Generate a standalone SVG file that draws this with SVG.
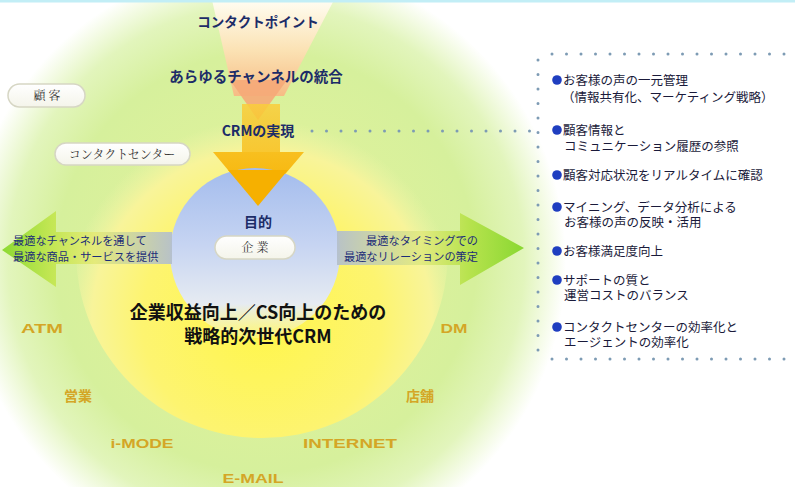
<svg xmlns="http://www.w3.org/2000/svg" width="795" height="487" viewBox="0 0 795 487">
<defs>
<radialGradient id="gGreen" cx="266" cy="262" r="300" gradientUnits="userSpaceOnUse">
<stop offset="0" stop-color="#e6f39a"/>
<stop offset="0.7" stop-color="#d6f09c"/>
<stop offset="0.86" stop-color="#e2f5bc"/>
<stop offset="1" stop-color="#ffffff"/>
</radialGradient>
<radialGradient id="gYellow" cx="262" cy="320" r="200" gradientUnits="userSpaceOnUse">
<stop offset="0" stop-color="#fff64a"/>
<stop offset="0.6" stop-color="#fdf470"/>
<stop offset="0.85" stop-color="#f8f49a"/>
<stop offset="1" stop-color="#eef5a8" stop-opacity="0"/>
</radialGradient>
<linearGradient id="gBlue" x1="0" y1="168" x2="0" y2="338" gradientUnits="userSpaceOnUse">
<stop offset="0" stop-color="#a3bced"/>
<stop offset="0.45" stop-color="#c6d4f2"/>
<stop offset="0.8" stop-color="#e6ebf2"/>
<stop offset="1" stop-color="#f8f6d0" stop-opacity="0.3"/>
</linearGradient>
<linearGradient id="gStream" x1="0" y1="0" x2="0" y2="100" gradientUnits="userSpaceOnUse">
<stop offset="0" stop-color="#fffdf2"/>
<stop offset="0.5" stop-color="#fbe2b4"/>
<stop offset="1" stop-color="#f6b880"/>
</linearGradient>
<linearGradient id="gGold" x1="0" y1="95" x2="0" y2="205" gradientUnits="userSpaceOnUse">
<stop offset="0" stop-color="#fad040"/>
<stop offset="1" stop-color="#f6b000"/>
</linearGradient>
<linearGradient id="gLeft" x1="0" y1="0" x2="172" y2="0" gradientUnits="userSpaceOnUse">
<stop offset="0" stop-color="#86d82a"/>
<stop offset="0.3" stop-color="#c2e650"/>
<stop offset="0.55" stop-color="#e4ea78"/>
<stop offset="1" stop-color="#b4bfcc"/>
</linearGradient>
<linearGradient id="gRight" x1="336" y1="0" x2="525" y2="0" gradientUnits="userSpaceOnUse">
<stop offset="0" stop-color="#b4bfcc"/>
<stop offset="0.45" stop-color="#e2ea80"/>
<stop offset="0.7" stop-color="#b6e24a"/>
<stop offset="1" stop-color="#84d62a"/>
</linearGradient>
<linearGradient id="gPill" x1="0" y1="0" x2="0" y2="1">
<stop offset="0" stop-color="#ffffff"/>
<stop offset="1" stop-color="#f4f4ea"/>
</linearGradient>
<style>
.hd{font-family:"Noto Sans CJK JP",sans-serif;font-weight:bold;fill:#1c2c68;text-anchor:middle;}
.pill{fill:url(#gPill);stroke:#d6d6c4;stroke-width:1.5;}
.pt{font-family:"Noto Serif CJK JP","Noto Sans CJK JP",serif;font-size:12px;fill:#333;text-anchor:middle;}
.ch{font-family:"Liberation Sans",Arial,sans-serif;font-weight:bold;font-size:13px;fill:#d4a626;text-anchor:middle;}
.chj{font-family:"Noto Sans CJK JP",sans-serif;font-weight:bold;font-size:14px;fill:#d4a626;text-anchor:middle;}
.arr{font-family:"Noto Sans CJK JP",sans-serif;font-size:11.2px;fill:#1c2c78;}
.li{font-family:"Liberation Sans","Noto Sans CJK JP",sans-serif;font-size:12.5px;fill:#1a1a3a;}
.dl{stroke:#7d9bb4;stroke-width:3;stroke-linecap:round;stroke-dasharray:0 14.5;fill:none;}
</style>
</defs>
<rect width="795" height="487" fill="#ffffff"/>

<g id="rings">
<circle cx="266" cy="262" r="300" fill="url(#gGreen)"/>
<circle cx="262" cy="252" r="186" fill="url(#gYellow)"/>
</g>

<g id="flow-arrows">
<polygon points="212,0 334,0 284,96 234,96" fill="url(#gStream)"/>
<polygon points="230,80 287,80 258,120" fill="#f5a878" opacity="0.9"/>
<rect x="242" y="104" width="38" height="50" fill="url(#gGold)" opacity="0.85"/>
<polygon points="213,152 304,152 258,206" fill="url(#gGold)"/>
</g>

<g id="sphere">
<circle cx="255" cy="253" r="85" fill="url(#gBlue)"/>
<polygon points="228,170 288,170 258,206" fill="#f6b000"/>
</g>

<g id="side-arrows">
<polygon points="2,250 56,211 56,232 172,232 172,264 56,264 56,287" fill="url(#gLeft)" opacity="0.95"/>
<polygon points="524,248 460,213 460,231 337,231 337,265 460,265 460,285" fill="url(#gRight)" opacity="0.95"/>
</g>

<g id="labels-top">
<text class="hd" x="258" y="27" font-size="13.5">コンタクトポイント</text>
<text class="hd" x="256" y="82" font-size="14.5">あらゆるチャンネルの統合</text>
<text class="hd" x="258" y="136" font-size="14">CRMの実現</text>
<text class="hd" x="258" y="227" font-size="14">目的</text>
</g>

<g id="node-kokyaku">
<rect class="pill" x="8" y="84" width="77" height="23" rx="11.5"/>
<text class="pt" x="47" y="100">顧 客</text>
</g>
<g id="node-contactcenter">
<rect class="pill" x="55" y="143" width="135" height="22" rx="11"/>
<text class="pt" x="122" y="159" font-size="11.5">コンタクトセンター</text>
</g>
<g id="node-kigyo">
<rect class="pill" x="215" y="236" width="80" height="23" rx="11.5"/>
<text class="pt" x="255" y="252">企 業</text>
</g>

<g id="arrow-text-left">
<text class="arr" x="13" y="245">最適なチャンネルを通して</text>
<text class="arr" x="13" y="261">最適な商品・サービスを提供</text>
</g>
<g id="arrow-text-right">
<text class="arr" x="478" y="245" text-anchor="end">最適なタイミングでの</text>
<text class="arr" x="478" y="261" text-anchor="end">最適なリレーションの策定</text>
</g>

<g id="main-title">
<text x="258" y="319" font-family="'Noto Sans CJK JP',sans-serif" font-weight="bold" font-size="18" fill="#111" text-anchor="middle">企業収益向上／CS向上のための</text>
<text x="258" y="343" font-family="'Noto Sans CJK JP',sans-serif" font-weight="bold" font-size="18" fill="#111" text-anchor="middle">戦略的次世代CRM</text>
</g>

<g id="channels">
<text class="ch" x="42" y="333" textLength="42" lengthAdjust="spacingAndGlyphs">ATM</text>
<text class="ch" x="454" y="333" textLength="27" lengthAdjust="spacingAndGlyphs">DM</text>
<text class="chj" x="78" y="401">営業</text>
<text class="chj" x="420" y="401">店舗</text>
<text class="ch" x="142" y="448" textLength="63" lengthAdjust="spacingAndGlyphs">i-MODE</text>
<text class="ch" x="350" y="448" textLength="94" lengthAdjust="spacingAndGlyphs">INTERNET</text>
<text class="ch" x="253" y="483" textLength="61" lengthAdjust="spacingAndGlyphs">E-MAIL</text>
</g>

<g id="connectors">
<line class="dl" x1="312" y1="131" x2="535" y2="131"/>
<line class="dl" x1="552" y1="54" x2="795" y2="54"/>
<line class="dl" x1="538" y1="60" x2="538" y2="356"/>
<line class="dl" x1="552" y1="359" x2="795" y2="359"/>
</g>

<g id="benefits">
<g fill="#1f3ec0">
<circle cx="557" cy="80" r="4.8"/>
<circle cx="557" cy="130" r="4.8"/>
<circle cx="557" cy="175" r="4.8"/>
<circle cx="557" cy="207" r="4.8"/>
<circle cx="557" cy="251" r="4.8"/>
<circle cx="557" cy="280" r="4.8"/>
<circle cx="557" cy="327" r="4.8"/>
</g>
<text class="li" x="563" y="85">お客様の声の一元管理</text>
<text class="li" x="562" y="102">（情報共有化、マーケティング戦略）</text>
<text class="li" x="563" y="135">顧客情報と</text>
<text class="li" x="564" y="151">コミュニケーション履歴の参照</text>
<text class="li" x="563" y="180">顧客対応状況をリアルタイムに確認</text>
<text class="li" x="563" y="212">マイニング、データ分析による</text>
<text class="li" x="564" y="227">お客様の声の反映・活用</text>
<text class="li" x="563" y="256">お客様満足度向上</text>
<text class="li" x="563" y="285">サポートの質と</text>
<text class="li" x="564" y="300">運営コストのバランス</text>
<text class="li" x="563" y="332">コンタクトセンターの効率化と</text>
<text class="li" x="564" y="347">エージェントの効率化</text>
</g>

<rect x="0" y="0" width="795" height="2.5" fill="#c2eef6"/>
</svg>
